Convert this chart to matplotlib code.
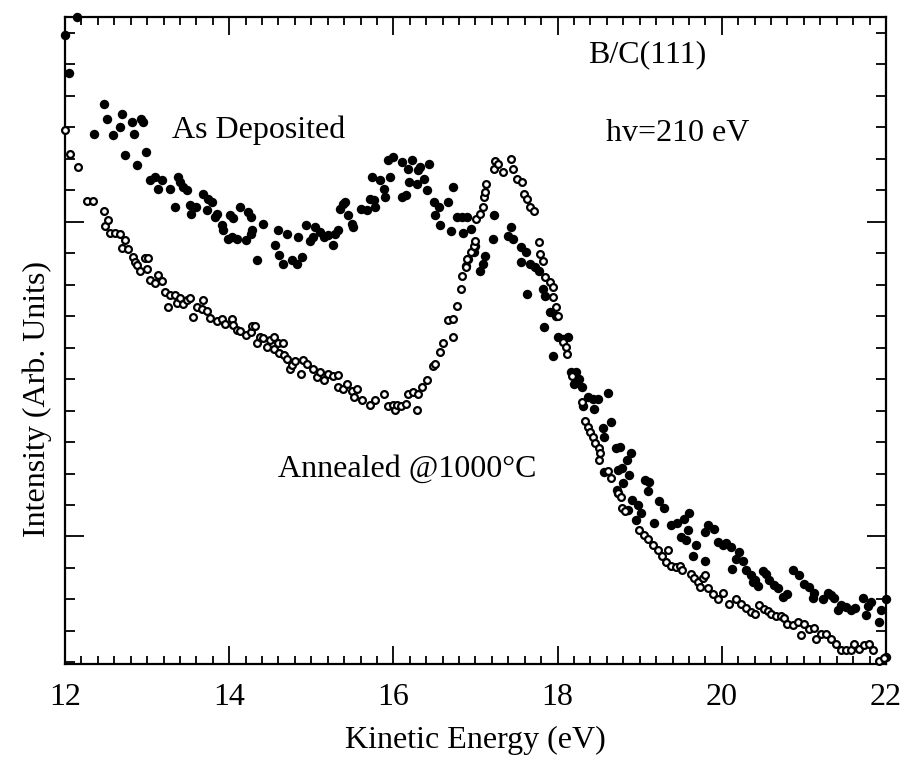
import numpy as np
import matplotlib
matplotlib.use("Agg")
import matplotlib.pyplot as plt
from matplotlib.ticker import MultipleLocator, FixedLocator

# As Deposited (filled circles): kinetic energy (eV), intensity (arb. units)
dep_energy = [
    12.00, 12.15, 12.05, 12.35, 12.48, 12.51, 12.59, 12.67, 12.70, 12.73,
    12.82, 12.84, 12.88, 12.93, 12.95, 12.99, 13.04, 13.10, 13.13, 13.18,
    13.28, 13.34, 13.38, 13.40, 13.44, 13.49, 13.52, 13.53, 13.59, 13.68,
    13.73, 13.74, 13.79, 13.83, 13.85, 13.91, 13.93, 13.99, 14.01, 14.04,
    14.05, 14.10, 14.13, 14.20, 14.23, 14.26, 14.27, 14.28, 14.34, 14.41,
    14.56, 14.60, 14.61, 14.65, 14.71, 14.77, 14.83, 14.84, 14.89, 14.93,
    14.99, 15.02, 15.05, 15.11, 15.15, 15.20, 15.26, 15.29, 15.32, 15.35,
    15.39, 15.41, 15.45, 15.50, 15.51, 15.60, 15.68, 15.72, 15.74, 15.76,
    15.78, 15.84, 15.88, 15.90, 15.93, 15.96, 16.00, 16.11, 16.11, 16.15,
    16.18, 16.19, 16.23, 16.29, 16.30, 16.33, 16.37, 16.41, 16.43, 16.49,
    16.51, 16.55, 16.57, 16.66, 16.70, 16.72, 16.78, 16.84, 16.85, 16.90,
    16.89, 16.91, 16.94, 16.98, 17.00, 17.06, 17.09, 17.12, 17.21, 17.23,
    17.39, 17.43, 17.46, 17.55, 17.56, 17.61, 17.63, 17.67, 17.73, 17.77,
    17.82, 17.83, 17.85, 17.91, 17.95, 17.98, 18.00, 18.06, 18.13, 18.16,
    18.20, 18.22, 18.26, 18.30, 18.31, 18.37, 18.43, 18.44, 18.49, 18.55,
    18.56, 18.57, 18.62, 18.65, 18.71, 18.72, 18.73, 18.74, 18.76, 18.79,
    18.80, 18.85, 18.86, 18.87, 18.90, 18.91, 18.95, 18.98, 19.01, 19.07,
    19.10, 19.11, 19.17, 19.23, 19.30, 19.38, 19.46, 19.50, 19.54, 19.56,
    19.59, 19.60, 19.65, 19.68, 19.79, 19.80, 19.83, 19.90, 19.95, 20.01,
    20.05, 20.11, 20.12, 20.17, 20.21, 20.26, 20.29, 20.35, 20.38, 20.41,
    20.44, 20.50, 20.54, 20.57, 20.63, 20.68, 20.74, 20.80, 20.87, 20.94,
    21.00, 21.06, 21.11, 21.12, 21.23, 21.29, 21.33, 21.37, 21.41, 21.45,
    21.51, 21.57, 21.62, 21.72, 21.76, 21.78, 21.82, 21.91, 21.94, 22.00,
    22.00,
]
dep_intensity = [
    19.94, 20.50, 18.73, 16.79, 17.75, 17.27, 16.76, 17.02, 17.43, 16.13,
    17.17, 16.79, 15.81, 17.27, 17.17, 16.22, 15.33, 15.43, 15.05, 15.33,
    15.05, 14.48, 15.43, 15.27, 15.11, 15.02, 14.54, 14.25, 14.48, 14.89,
    14.38, 14.73, 14.63, 14.16, 14.25, 13.90, 13.75, 13.46, 14.22, 13.52,
    14.10, 13.46, 14.48, 13.43, 14.32, 14.16, 13.62, 13.75, 12.79, 13.94,
    13.27, 13.75, 12.95, 12.67, 13.62, 12.79, 12.67, 13.52, 12.89, 13.90,
    13.37, 13.52, 13.84, 13.68, 13.52, 13.59, 13.27, 13.62, 13.75, 14.41,
    14.57, 14.63, 14.22, 13.94, 13.84, 14.41, 14.38, 14.73, 15.43, 14.70,
    14.48, 15.33, 15.05, 14.79, 15.97, 15.43, 16.06, 15.90, 14.79, 14.86,
    15.68, 15.27, 15.97, 15.21, 15.65, 15.75, 15.37, 15.02, 15.84, 14.63,
    14.22, 14.48, 13.90, 14.63, 13.70, 15.09, 14.14, 14.14, 13.63, 14.14,
    12.59, 12.81, 13.76, 13.03, 13.22, 12.43, 12.65, 12.90, 13.44, 14.21,
    13.54, 13.82, 13.44, 13.19, 12.71, 13.03, 11.70, 12.65, 12.55, 12.43,
    11.86, 10.65, 11.63, 11.13, 9.73, 11.00, 10.33, 10.27, 10.33, 9.22,
    8.84, 9.22, 9.00, 8.75, 8.14, 8.43, 8.36, 8.05, 8.36, 7.44,
    7.15, 6.04, 8.55, 7.63, 6.80, 5.47, 6.10, 5.37, 6.85, 6.17,
    5.69, 6.42, 4.83, 5.94, 6.64, 5.15, 4.51, 4.99, 4.74, 5.78,
    5.44, 5.72, 4.42, 5.12, 4.90, 4.36, 4.42, 3.98, 4.55, 3.88,
    4.20, 4.74, 3.37, 3.72, 3.21, 4.13, 4.35, 4.25, 3.84, 3.74,
    3.78, 3.68, 2.98, 3.27, 3.52, 3.21, 2.95, 2.79, 2.57, 2.63,
    2.44, 2.89, 2.82, 2.63, 2.47, 2.35, 2.09, 2.16, 2.95, 2.79,
    2.48, 2.38, 2.06, 2.22, 2.00, 2.19, 2.13, 2.06, 1.65, 1.81,
    1.75, 1.68, 1.72, 2.06, 1.52, 1.78, 1.91, 1.30, 1.65, 2.03,
    0.16,
]

# Annealed @1000°C (open circles)
ann_energy = [
    12.00, 12.06, 12.16, 12.27, 12.34, 12.48, 12.49, 12.52, 12.55, 12.61,
    12.67, 12.70, 12.73, 12.77, 12.83, 12.85, 12.88, 12.91, 12.98, 13.00,
    13.01, 13.04, 13.10, 13.13, 13.18, 13.22, 13.26, 13.28, 13.34, 13.37,
    13.40, 13.44, 13.49, 13.52, 13.56, 13.61, 13.67, 13.68, 13.73, 13.77,
    13.85, 13.91, 13.95, 14.04, 14.05, 14.10, 14.13, 14.20, 14.26, 14.28,
    14.32, 14.34, 14.38, 14.41, 14.46, 14.50, 14.54, 14.55, 14.60, 14.61,
    14.66, 14.67, 14.71, 14.74, 14.77, 14.80, 14.87, 14.90, 14.95, 15.02,
    15.07, 15.11, 15.15, 15.20, 15.26, 15.32, 15.33, 15.39, 15.44, 15.50,
    15.52, 15.56, 15.62, 15.72, 15.78, 15.88, 15.94, 15.99, 16.02, 16.05,
    16.09, 16.15, 16.18, 16.24, 16.29, 16.30, 16.35, 16.41, 16.48, 16.51,
    16.57, 16.61, 16.67, 16.72, 16.73, 16.78, 16.82, 16.84, 16.88, 16.90,
    16.94, 16.98, 17.00, 17.01, 17.06, 17.09, 17.10, 17.12, 17.13, 17.22,
    17.24, 17.28, 17.34, 17.43, 17.46, 17.51, 17.57, 17.59, 17.63, 17.67,
    17.71, 17.77, 17.79, 17.82, 17.85, 17.91, 17.94, 17.95, 17.98, 18.01,
    18.07, 18.10, 18.12, 18.18, 18.30, 18.33, 18.37, 18.39, 18.43, 18.46,
    18.50, 18.51, 18.52, 18.61, 18.65, 18.73, 18.77, 18.78, 18.82, 18.99,
    19.05, 19.10, 19.16, 19.22, 19.27, 19.32, 19.35, 19.38, 19.44, 19.49,
    19.52, 19.62, 19.66, 19.71, 19.74, 19.77, 19.80, 19.83, 19.89, 19.95,
    20.01, 20.09, 20.17, 20.23, 20.29, 20.35, 20.41, 20.45, 20.51, 20.56,
    20.60, 20.66, 20.72, 20.76, 20.80, 20.87, 20.93, 20.96, 21.00, 21.06,
    21.12, 21.15, 21.21, 21.27, 21.33, 21.39, 21.45, 21.51, 21.57, 21.61,
    21.67, 21.73, 21.79, 21.84, 21.91, 21.98,
]
ann_intensity = [
    16.92, 16.16, 15.75, 14.67, 14.67, 14.35, 13.87, 14.06, 13.65, 13.65,
    13.62, 13.17, 13.43, 13.14, 12.89, 12.73, 12.63, 12.44, 12.86, 12.48,
    12.83, 12.16, 12.06, 12.29, 12.10, 11.75, 11.30, 11.68, 11.68, 11.43,
    11.56, 11.37, 11.52, 11.56, 10.98, 11.30, 11.21, 11.52, 11.17, 10.95,
    10.86, 10.92, 10.76, 10.92, 10.73, 10.57, 10.54, 10.41, 10.51, 10.67,
    10.67, 10.16, 10.35, 10.29, 10.03, 10.25, 10.35, 9.94, 10.13, 9.84,
    10.13, 9.78, 9.65, 9.33, 9.46, 9.56, 9.17, 9.59, 9.49, 9.33,
    9.08, 9.24, 8.98, 9.17, 9.11, 9.14, 8.76, 8.67, 8.83, 8.63,
    8.44, 8.67, 8.32, 8.19, 8.35, 8.54, 8.16, 8.19, 8.03, 8.19,
    8.13, 8.22, 8.54, 8.60, 8.03, 8.54, 8.76, 8.98, 9.40, 9.49,
    9.87, 10.13, 10.89, 10.33, 10.90, 11.32, 11.86, 12.27, 12.55, 12.81,
    13.03, 13.22, 13.38, 14.08, 14.24, 14.46, 14.78, 14.94, 15.19, 15.67,
    15.92, 15.82, 15.57, 15.98, 15.67, 15.35, 15.25, 14.87, 14.71, 14.46,
    14.33, 13.35, 12.97, 12.75, 12.24, 12.08, 11.92, 11.60, 11.29, 11.00,
    10.17, 10.02, 9.79, 9.09, 8.27, 7.67, 7.48, 7.32, 7.16, 6.97,
    6.81, 6.43, 6.64, 6.07, 5.85, 5.37, 5.25, 4.90, 4.80, 4.20,
    4.04, 3.91, 3.72, 3.56, 3.37, 3.18, 3.56, 3.05, 3.02, 3.05,
    2.93, 2.80, 2.67, 2.55, 2.38, 2.67, 2.79, 2.35, 2.16, 2.00,
    2.22, 1.87, 2.00, 1.87, 1.74, 1.59, 1.55, 1.84, 1.71, 1.62,
    1.55, 1.46, 1.46, 1.40, 1.23, 1.20, 1.29, 0.88, 1.21, 1.05,
    1.08, 0.76, 0.89, 0.89, 0.73, 0.57, 0.41, 0.38, 0.41, 0.60,
    0.44, 0.54, 0.60, 0.41, 0.06, 0.13,
]

plt.rcParams['font.family'] = ['Liberation Serif', 'DejaVu Serif']

fig = plt.figure(figsize=(9.13, 7.58), dpi=100)
ax = fig.add_axes([0.0712, 0.124, 0.8992, 0.8536])

ax.scatter(dep_energy, dep_intensity, s=46, c='black', linewidths=0, clip_on=False, zorder=3)
ax.scatter(ann_energy, ann_intensity, s=24, facecolors='white', edgecolors='black',
           linewidths=1.6, clip_on=False, zorder=4)

ax.set_xlim(12, 22)
ax.set_ylim(-0.05, 20.5)

ax.xaxis.set_major_locator(MultipleLocator(2))
ax.xaxis.set_minor_locator(MultipleLocator(0.2))
ax.yaxis.set_major_locator(FixedLocator([4, 14]))
ax.yaxis.set_minor_locator(MultipleLocator(1))
ax.set_yticklabels([])

ax.tick_params(which='both', direction='in', top=True, right=True, width=1.3)
ax.tick_params(axis='x', which='major', length=13, labelsize=23, pad=14)
ax.tick_params(axis='x', which='minor', length=6)
ax.tick_params(axis='y', which='major', length=14)
ax.tick_params(axis='y', which='minor', length=7)
for side in ax.spines.values():
    side.set_linewidth(1.6)

ax.set_xlabel('Kinetic Energy (eV)', fontsize=23, labelpad=10)
ax.set_ylabel('Intensity (Arb. Units)', fontsize=23, labelpad=6, y=0.41)

ax.text(13.30, 16.9, 'As Deposited', fontsize=23, va='center', ha='left')
ax.text(18.37, 19.3, 'B/C(111)', fontsize=23, va='center', ha='left')
ax.text(18.59, 16.8, 'hv=210 eV', fontsize=23, va='center', ha='left')
ax.text(14.59, 6.15, 'Annealed @1000°C', fontsize=23, va='center', ha='left')

fig.savefig('out.png', dpi=100)
